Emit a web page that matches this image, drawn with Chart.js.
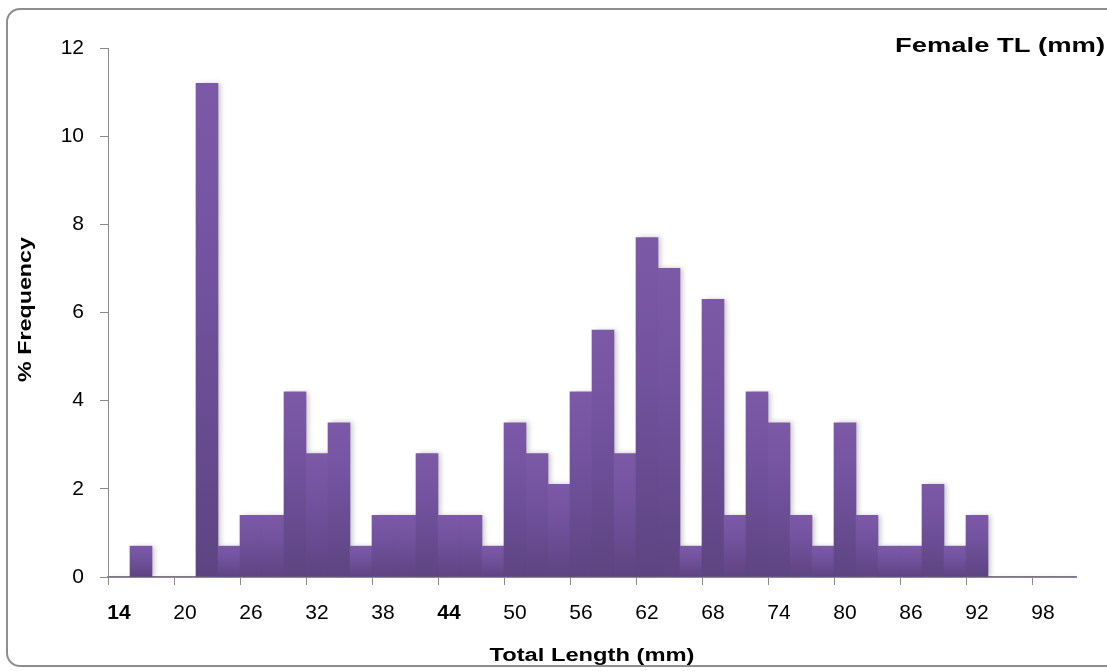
<!DOCTYPE html>
<html>
<head>
<meta charset="utf-8">
<script src="https://cdn.jsdelivr.net/npm/chart.js@4.4.1/dist/chart.umd.min.js"></script>
<style>
  html, body { margin: 0; padding: 0; background: #fff; }
  #wrap { position: relative; width: 1107px; height: 671px; overflow: hidden; }
  #frame {
    position: absolute; left: 6px; top: 8px; width: 1120px; height: 659px;
    border: 2px solid #8e8e8e; border-radius: 14px; box-sizing: border-box;
  }
  #chart { position: absolute; left: 0; top: 0; }
</style>
</head>
<body>
<div id="wrap">
  <div id="frame"></div>
  <canvas id="chart" width="1107" height="671"></canvas>
</div>
<script>
// length classes (mm), 2 mm bins
const lengths = [14, 16, 18, 20, 22, 24, 26, 28, 30, 32, 34, 36, 38, 40, 42, 44, 46, 48, 50, 52, 54, 56,
                 58, 60, 62, 64, 66, 68, 70, 72, 74, 76, 78, 80, 82, 84, 86, 88, 90, 92, 94, 96, 98, 100];
// % frequency per class
const frequency = [0, 0.7, 0, 0, 11.2, 0.7, 1.4, 1.4, 4.2, 2.8, 3.5, 0.7, 1.4, 1.4, 2.8, 1.4, 1.4, 0.7, 3.5, 2.8, 2.1, 4.2,
                   5.6, 2.8, 7.7, 7.0, 0.7, 6.3, 1.4, 4.2, 3.5, 1.4, 0.7, 3.5, 1.4, 0.7, 0.7, 2.1, 0.7, 1.4, 0, 0, 0, 0];
const yTicks = [0, 2, 4, 6, 8, 10, 12];

const chartTitle = 'Female TL (mm)';
const xTitle = 'Total Length (mm)';
const yTitle = '% Frequency';
const axisColor = '#8a8a8a';
const font = 'Liberation Sans, Arial, sans-serif';

// per-bar vertical gradient, light on top, dark at the base
const barFill = (ctx) => {
    const chart = ctx.chart;
    if (!chart.chartArea || ctx.type !== 'data') return '#6e4f97';
    const y = chart.scales.y;
    const top = y.getPixelForValue(ctx.raw);
    const base = y.getPixelForValue(0);
    if (!(base > top)) return '#6e4f97';
    const g = chart.ctx.createLinearGradient(0, top, 0, base);
    g.addColorStop(0, '#7c59a7');
    g.addColorStop(0.35, '#7353a0');
    g.addColorStop(1, '#5d4481');
    return g;
};

const shadowPlugin = {
    id: 'barShadow',
    beforeDatasetsDraw(chart) {
        const c = chart.ctx;
        c.save();
        c.shadowColor = 'rgba(0,0,0,0.22)';
        c.shadowBlur = 5;
        c.shadowOffsetX = 3;
        c.shadowOffsetY = 0;
    },
    afterDatasetsDraw(chart) {
        chart.ctx.restore();
    }
};

// the original's titles look horizontally stretched, so squeeze/stretch to a width
function stretchedText(c, text, x, y, width, align) {
    const w = c.measureText(text).width;
    const sx = width / w;
    let x0 = x;
    if (align === 'center') x0 = x - width / 2;
    if (align === 'right') x0 = x - width;
    c.save();
    c.translate(x0, y);
    c.scale(sx, 1);
    c.textAlign = 'left';
    c.fillText(text, 0, 0);
    c.restore();
}

const textPlugin = {
    id: 'labels',
    afterDraw(chart) {
        const c = chart.ctx;
        const a = chart.chartArea;
        c.save();
        c.fillStyle = '#000';
        c.textBaseline = 'middle';

        c.font = 'bold 20px ' + font;
        stretchedText(c, chartTitle, 1105, 46, 210, 'right');

        c.font = 'bold 18px ' + font;
        stretchedText(c, xTitle, (a.left + a.right) / 2, 656, 205, 'center');

        c.translate(26, (a.top + a.bottom) / 2 - 3);
        c.rotate(-Math.PI / 2);
        stretchedText(c, yTitle, 0, 0, 145, 'center');
        c.restore();
    }
};

new Chart(document.getElementById('chart'), {
    type: 'bar',
    data: {
        labels: lengths.map(String),
        datasets: [{
            data: frequency,
            backgroundColor: barFill,
            borderWidth: 0,
            barPercentage: 1,
            categoryPercentage: 1
        }]
    },
    options: {
        responsive: false,
        animation: false,
        layout: { padding: { left: 8, right: 31, top: 48, bottom: 2 } },
        plugins: {
            legend: { display: false },
            tooltip: { enabled: false },
            title: { display: false }
        },
        scales: {
            x: {
                offset: true,
                grid: {
                    offset: true,
                    drawOnChartArea: false,
                    drawTicks: true,
                    tickLength: 8,
                    color: (ctx) => (ctx.index % 3 === 0 ? axisColor : 'rgba(0,0,0,0)'),
                    lineWidth: 1
                },
                border: { color: axisColor, width: 2 },
                ticks: {
                    autoSkip: false,
                    maxRotation: 0,
                    padding: 16,
                    color: '#000',
                    font: (ctx) => ({ family: font, size: 21, weight: (ctx.index === 0 || ctx.index === 15) ? 'bold' : 'normal' }),
                    callback: (v, i) => (i % 3 === 0 ? lengths[i] : '')
                },
                afterFit: (s) => { s.height = 92; }
            },
            y: {
                min: 0,
                max: 12,
                afterBuildTicks: (s) => { s.ticks = yTicks.map(v => ({ value: v })); },
                grid: {
                    drawOnChartArea: false,
                    drawTicks: true,
                    tickLength: 8,
                    color: axisColor
                },
                border: { color: axisColor, width: 1 },
                ticks: {
                    padding: 16,
                    color: '#000',
                    font: { family: font, size: 21 }
                },
                afterFit: (s) => { s.width = 100; }
            }
        }
    },
    plugins: [shadowPlugin, textPlugin]
});
</script>
</body>
</html>
